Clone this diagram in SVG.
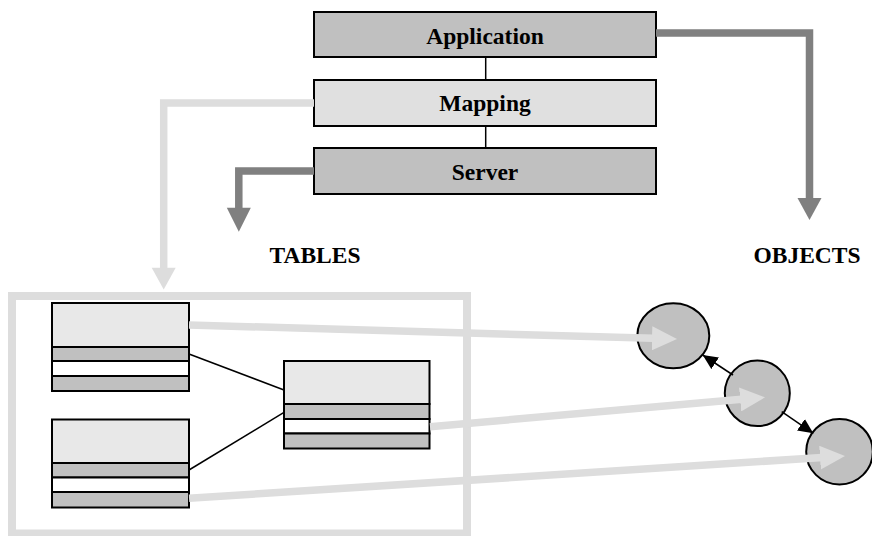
<svg xmlns="http://www.w3.org/2000/svg" width="872" height="536" viewBox="0 0 872 536">
  <style>
    .layer { stroke: #000; stroke-width: 2; }
    .dark { fill: #c0c0c0; }
    .light { fill: #e0e0e0; }
    .hdr { fill: #e8e8e8; stroke: #000; stroke-width: 2; }
    .row-g { fill: #c0c0c0; stroke: #000; stroke-width: 2; }
    .row-w { fill: #ffffff; stroke: #000; stroke-width: 2; }
    .lbl { font-family: "Liberation Serif", "Times New Roman", serif; font-weight: bold; font-size: 23.5px; fill: #000; text-anchor: middle; }
    .obj { fill: #c0c0c0; stroke: #000; stroke-width: 2; }
    .thin { stroke: #000; stroke-width: 1.5; fill: none; }
    .lgray { stroke: #dddddd; stroke-width: 7.5; fill: none; }
    .dgray { stroke: #808080; stroke-width: 7.5; fill: none; }
  </style>
  <defs>
    <marker id="lhead" markerUnits="userSpaceOnUse" markerWidth="26" markerHeight="24" refX="10" refY="12" orient="auto" viewBox="0 0 26 24">
      <path d="M0,0 L25,12 L0,24 z" fill="#dddddd"/>
    </marker>
    <marker id="bhead" markerUnits="userSpaceOnUse" markerWidth="16" markerHeight="14" refX="15" refY="7" orient="auto" viewBox="0 0 16 14">
      <path d="M0,0 L15,7 L0,14 z" fill="#000"/>
    </marker>
  </defs>

  <!-- container of tables -->
  <rect id="tables-frame" x="12" y="296" width="455" height="237.5" fill="none" stroke="#dddddd" stroke-width="8"/>

  <g id="application">
    <rect class="layer dark" x="314" y="12" width="342" height="45"/>
    <text class="lbl" x="485" y="44">Application</text>
  </g>
  <g id="mapping">
    <rect class="layer light" x="314" y="80" width="342" height="46"/>
    <text class="lbl" x="485" y="111">Mapping</text>
  </g>
  <g id="server">
    <rect class="layer dark" x="314" y="148" width="342" height="46"/>
    <text class="lbl" x="485" y="180">Server</text>
  </g>

  <g id="label-tables">
    <text class="lbl" x="315" y="263">TABLES</text>
  </g>
  <g id="label-objects">
    <text class="lbl" x="807" y="263">OBJECTS</text>
  </g>

  <g id="table1">
    <rect class="hdr" x="52" y="303" width="137" height="44"/>
    <rect class="row-g" x="52" y="347" width="137" height="14"/>
    <rect class="row-w" x="52" y="361" width="137" height="15"/>
    <rect class="row-g" x="52" y="376" width="137" height="15"/>
  </g>
  <g id="table2">
    <rect class="hdr" x="52" y="419.5" width="137" height="43.5"/>
    <rect class="row-g" x="52" y="463" width="137" height="14.5"/>
    <rect class="row-w" x="52" y="477.5" width="137" height="14.5"/>
    <rect class="row-g" x="52" y="492" width="137" height="15.5"/>
  </g>
  <g id="table3">
    <rect class="hdr" x="284" y="361" width="145.5" height="43"/>
    <rect class="row-g" x="284" y="404" width="145.5" height="15"/>
    <rect class="row-w" x="284" y="419" width="145.5" height="14.5"/>
    <rect class="row-g" x="284" y="433.5" width="145.5" height="15"/>
  </g>

  <g id="object1">
    <ellipse class="obj" cx="673.3" cy="335.7" rx="36" ry="32.5"/>
  </g>
  <g id="object2">
    <ellipse class="obj" cx="757.3" cy="393.3" rx="32.5" ry="32.8"/>
  </g>
  <g id="object3">
    <ellipse class="obj" cx="839.5" cy="451.7" rx="33.3" ry="32.8"/>
  </g>

  <g id="connectors">
    <line class="thin" x1="485.7" y1="57" x2="485.7" y2="80"/>
    <line class="thin" x1="485.7" y1="126" x2="485.7" y2="148"/>

    <path class="dgray" d="M656,33 L809.5,33 L809.5,199"/>
    <polygon points="797.5,198 821.5,198 809.5,220" fill="#808080"/>

    <path class="lgray" d="M314,103 L163.7,103 L163.7,268.5"/>
    <polygon points="151.7,267.7 175.7,267.7 163.7,289.5" fill="#dddddd"/>

    <path class="dgray" d="M314,171 L238.8,171 L238.8,208.5"/>
    <polygon points="226.8,207.7 250.8,207.7 238.8,231.7" fill="#808080"/>

    <line class="thin" x1="189" y1="354" x2="284" y2="390"/>
    <line class="thin" x1="189" y1="470" x2="284" y2="412.3"/>

    <line class="thin" x1="733" y1="375" x2="702.7" y2="355" marker-end="url(#bhead)"/>
    <line class="thin" x1="781.7" y1="411.7" x2="813.3" y2="433.3" marker-end="url(#bhead)"/>

    <line class="lgray" x1="189" y1="325" x2="662" y2="338.6" marker-end="url(#lhead)"/>
    <line class="lgray" x1="430" y1="426.7" x2="750.1" y2="398.6" marker-end="url(#lhead)"/>
    <line class="lgray" x1="189" y1="498.3" x2="830" y2="457" marker-end="url(#lhead)"/>
  </g>
</svg>
